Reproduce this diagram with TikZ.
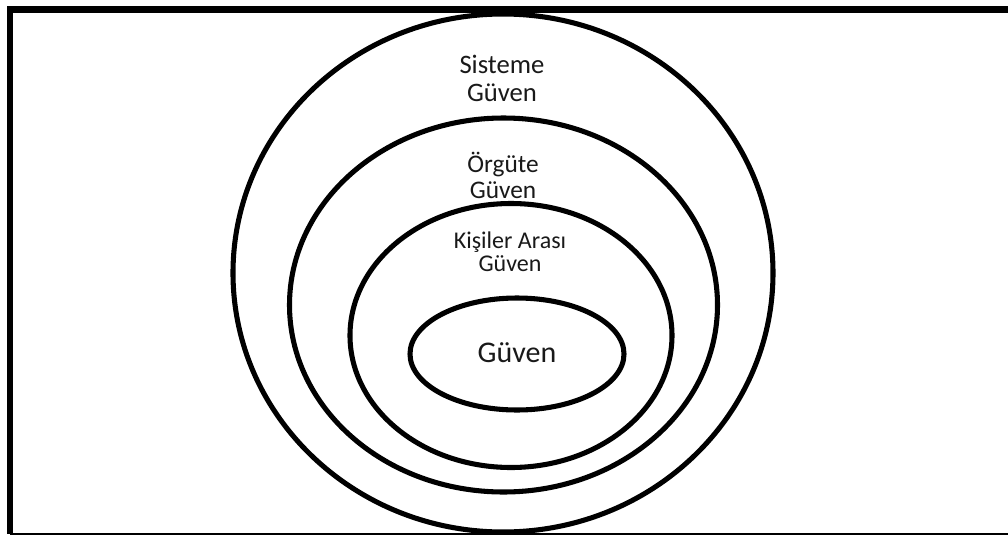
\documentclass[tikz,border=0pt]{standalone}
\usepackage{fontspec}
\setmainfont{Carlito}
\usepackage{tikz}
\usetikzlibrary{positioning}

\begin{document}
\begin{tikzpicture}[x=0.75pt,y=-0.75pt,
  ring/.style={line width=3.8pt},
  lbl/.style={align=center,inner sep=0pt,text=black!90}]
\useasboundingbox (0,0) rectangle (1008,536);
% frame
\draw[line width=5pt] (1008,9.5) -- (10,9.5) -- (10,534);
\draw[line width=2pt] (10,534) -- (1008,534);
% nested rings
\draw[ring] (503,273) ellipse [x radius=270,y radius=259];
\draw[ring] (503.5,305) ellipse [x radius=214,y radius=187];
\draw[ring] (511,335.5) ellipse [x radius=161,y radius=132];
\draw[ring] (517,354) ellipse [x radius=107,y radius=56];
% labels
\node[lbl,font=\fontsize{20}{20.5}\selectfont] (sys) at (502,78.5) {Sisteme\\Güven};
\node[lbl,font=\fontsize{19}{19.5}\selectfont] (org) at (503,175) {Örgüte\\Güven};
\node[lbl,font=\fontsize{18}{17.5}\selectfont] (kis) at (510,251.5) {Kişiler Arası\\Güven};
\node[lbl,font=\fontsize{22.5}{23}\selectfont] (guv) at (517,353) {Güven};
\end{tikzpicture}
\end{document}
